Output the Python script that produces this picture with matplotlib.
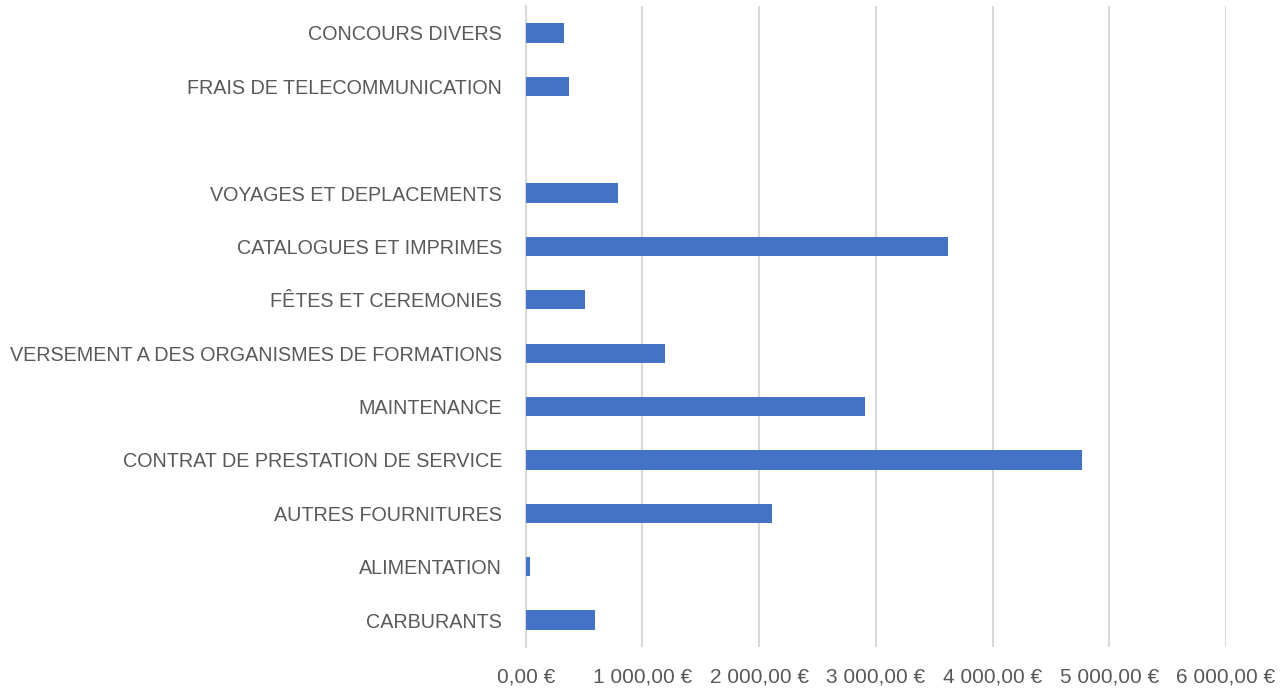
import matplotlib.pyplot as plt
from matplotlib.ticker import FuncFormatter, MultipleLocator

# categories listed bottom -> top, as in the chart
categories = [
    "CARBURANTS",
    "ALIMENTATION",
    "AUTRES FOURNITURES",
    "CONTRAT DE PRESTATION DE SERVICE",
    "MAINTENANCE",
    "VERSEMENT A DES ORGANISMES DE FORMATIONS",
    "FÊTES ET CEREMONIES",
    "CATALOGUES ET IMPRIMES",
    "VOYAGES ET DEPLACEMENTS",
    "",
    "FRAIS DE TELECOMMUNICATION",
    "CONCOURS DIVERS",
]
montants = [591, 34, 2111, 4770, 2905, 1190, 511, 3617, 794, 0, 368, 331]

plt.rcParams['font.family'] = ['Liberation Sans', 'DejaVu Sans']

fig = plt.figure(figsize=(12.87, 6.9), dpi=100)
ax = fig.add_axes([0.4085, 0.0627, 0.5441, 0.9282])

pos = list(range(len(categories)))
ax.barh(pos, montants, height=0.36, color='#4472C4', zorder=3)

ax.set_ylim(-0.5, len(categories) - 0.5)
ax.set_xlim(0, 6000)
ax.xaxis.set_major_locator(MultipleLocator(1000))


def euro(v, p):
    s = f"{v:,.2f}".replace(",", " ").replace(".", ",")
    return s + " €"


ax.xaxis.set_major_formatter(FuncFormatter(euro))
ax.set_yticks(pos)
ax.set_yticklabels(categories)

ax.grid(axis='x', color='#d9d9d9', linewidth=1.5, zorder=0)
for s in ['top', 'right', 'bottom']:
    ax.spines[s].set_visible(False)
ax.spines['left'].set_color('#d9d9d9')
ax.spines['left'].set_linewidth(1.5)

ax.tick_params(axis='x', length=0, pad=15, labelsize=15, labelcolor='#595959')
ax.tick_params(axis='y', length=0, pad=17, labelsize=14.2, labelcolor='#595959')

fig.savefig('out.png', dpi=100)
